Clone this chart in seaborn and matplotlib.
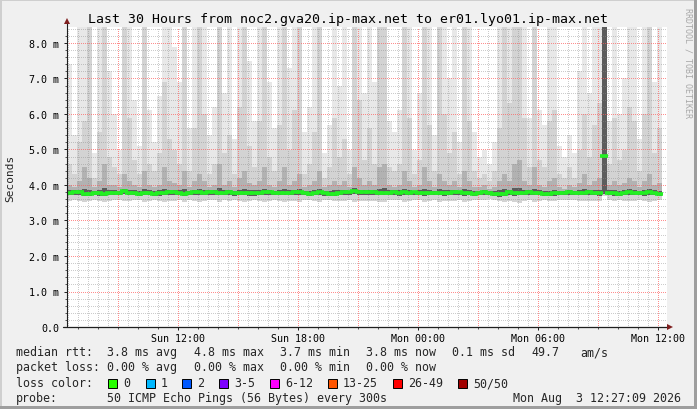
import numpy as np
import pandas as pd
import seaborn as sns
import matplotlib.pyplot as plt
from matplotlib.patches import Rectangle
from matplotlib.lines import Line2D

W, H = 697, 410

# 15 minute steps, Sun 2026-08-02 06:27 -> Mon 12:12
times = pd.date_range("2026-08-02 06:27", periods=119, freq="15min")
day0 = pd.Timestamp("2026-08-02 00:00")

# median rtt per step (ms)
median = [
    3.78, 3.79, 3.80, 3.76, 3.75, 3.78, 3.77, 3.76, 3.78, 3.78,
    3.78, 3.84, 3.78, 3.78, 3.76, 3.78, 3.78, 3.75, 3.77, 3.78,
    3.80, 3.79, 3.78, 3.74, 3.78, 3.79, 3.80, 3.78, 3.79, 3.80,
    3.78, 3.78, 3.79, 3.77, 3.78, 3.78, 3.77, 3.77, 3.78, 3.79,
    3.81, 3.78, 3.78, 3.78, 3.78, 3.80, 3.80, 3.78, 3.76, 3.78,
    3.79, 3.77, 3.75, 3.75, 3.78, 3.79, 3.79, 3.83, 3.79, 3.79,
    3.79, 3.80, 3.78, 3.78, 3.78, 3.80, 3.77, 3.79, 3.78, 3.79,
    3.78, 3.77, 3.78, 3.78, 3.78, 3.77, 3.78, 3.80, 3.79, 3.77,
    3.78, 3.76, 3.78, 3.79, 3.78, 3.76, 3.74, 3.75, 3.79, 3.77,
    3.78, 3.78, 3.79, 3.78, 3.78, 3.76, 3.75, 3.77, 3.78, 3.78,
    3.80, 3.78, 3.78, 3.78, 3.79, 3.78, 3.77, 4.82, 3.78, 3.77,
    3.76, 3.78, 3.81, 3.78, 3.78, 3.77, 3.80, 3.78, 3.76,
]

# smoke: highest ping per step
smoke_max = [
    7.4, 5.4, 8.6, 8.6, 8.6, 4.9, 8.6, 8.6, 7.2, 6.0,
    5.0, 8.6, 8.6, 6.4, 5.1, 8.6, 6.1, 5.2, 6.5, 8.6,
    8.6, 7.9, 6.9, 8.6, 5.6, 8.6, 8.6, 8.6, 5.4, 6.2,
    8.6, 6.6, 8.6, 5.3, 8.6, 8.6, 7.5, 5.8, 8.6, 8.6,
    6.9, 5.6, 8.6, 8.6, 7.3, 8.6, 8.6, 5.5, 6.2, 8.6,
    8.6, 4.9, 5.7, 8.6, 6.8, 8.6, 5.0, 8.6, 8.6, 6.6,
    8.6, 6.9, 8.6, 8.6, 5.8, 5.5, 6.1, 8.6, 8.6, 5.0,
    6.6, 8.6, 8.6, 5.4, 8.6, 8.6, 7.0, 8.6, 5.2, 8.6,
    8.6, 5.5, 4.8, 5.0, 4.6, 5.2, 8.6, 8.6, 8.6, 8.6,
    8.6, 8.6, 5.9, 8.6, 6.1, 5.7, 8.6, 8.6, 5.1, 4.8,
    5.4, 4.9, 7.2, 8.6, 6.6, 8.6, 8.6, 8.6, 5.8, 8.6,
    6.0, 7.0, 8.6, 8.6, 5.3, 8.6, 8.6, 6.9, 8.6,
]

# smoke: upper 10 %
smoke_p90 = [
    4.6, 4.3, 5.2, 5.8, 8.6, 4.2, 5.5, 8.6, 4.8, 4.5,
    4.3, 8.6, 5.9, 4.7, 4.3, 8.6, 4.6, 4.4, 4.9, 6.9,
    5.3, 5.0, 4.6, 8.6, 4.4, 5.6, 8.6, 6.0, 4.3, 4.6,
    8.6, 4.9, 5.4, 4.3, 6.2, 8.6, 5.1, 4.5, 5.8, 8.6,
    4.8, 4.4, 5.7, 8.6, 5.0, 6.1, 8.6, 4.3, 4.6, 5.5,
    8.6, 4.2, 4.5, 5.9, 4.8, 5.3, 4.3, 8.6, 6.4, 4.7,
    5.6, 4.6, 8.6, 8.6, 4.5, 4.4, 4.6, 8.6, 5.9, 4.3,
    4.7, 8.6, 5.7, 4.4, 8.6, 6.0, 4.9, 5.5, 4.3, 8.6,
    5.8, 4.4, 4.2, 4.3, 4.1, 4.4, 5.6, 8.6, 6.3, 8.6,
    8.6, 5.9, 4.5, 8.6, 4.7, 4.5, 5.8, 6.1, 4.3, 4.2,
    4.5, 4.2, 5.0, 6.0, 4.8, 5.7, 6.3, 8.6, 4.6, 5.9,
    4.7, 5.0, 6.2, 5.8, 4.4, 6.0, 8.6, 4.9, 5.6,
]

# smoke: upper quartile
smoke_p75 = [
    4.00, 3.95, 4.10, 4.50, 4.20, 3.95, 4.10, 4.60, 4.00, 4.00,
    3.95, 4.30, 4.10, 4.00, 3.95, 4.40, 4.00, 3.95, 4.00, 4.50,
    4.10, 4.05, 4.00, 4.40, 3.95, 4.10, 4.30, 4.10, 3.95, 4.00,
    4.60, 4.00, 4.10, 3.95, 4.20, 4.40, 4.05, 4.00, 4.10, 4.50,
    4.00, 3.95, 4.10, 4.50, 4.00, 4.10, 4.30, 3.95, 4.00, 4.10,
    4.40, 3.95, 4.00, 4.10, 4.00, 4.10, 3.95, 4.50, 4.20, 4.00,
    4.10, 4.00, 4.50, 4.60, 4.00, 3.95, 4.00, 4.40, 4.10, 3.95,
    4.00, 4.50, 4.10, 3.95, 4.30, 4.10, 4.00, 4.10, 3.95, 4.40,
    4.10, 3.95, 3.95, 4.00, 3.90, 3.95, 4.10, 4.30, 4.10, 4.60,
    4.70, 4.10, 4.00, 4.50, 4.00, 3.95, 4.10, 4.20, 3.95, 3.90,
    4.00, 3.95, 4.05, 4.30, 4.00, 4.10, 4.20, 8.60, 4.00, 4.10,
    4.00, 4.05, 4.20, 4.10, 3.95, 4.10, 4.30, 4.00, 4.05,
]

# smoke: dark core top
smoke_p60 = [
    3.86, 3.85, 3.87, 3.90, 3.87, 3.84, 3.86, 3.91, 3.85, 3.85,
    3.84, 3.90, 3.86, 3.85, 3.84, 3.89, 3.85, 3.83, 3.85, 3.90,
    3.87, 3.86, 3.85, 3.88, 3.84, 3.87, 3.89, 3.86, 3.85, 3.86,
    3.91, 3.85, 3.87, 3.84, 3.87, 3.89, 3.85, 3.85, 3.86, 3.90,
    3.87, 3.84, 3.86, 3.90, 3.85, 3.87, 3.89, 3.84, 3.84, 3.86,
    3.89, 3.84, 3.83, 3.86, 3.85, 3.87, 3.84, 3.92, 3.87, 3.85,
    3.87, 3.86, 3.90, 3.91, 3.85, 3.85, 3.85, 3.89, 3.86, 3.84,
    3.85, 3.90, 3.86, 3.84, 3.88, 3.86, 3.85, 3.87, 3.84, 3.89,
    3.86, 3.83, 3.84, 3.85, 3.82, 3.83, 3.85, 3.89, 3.86, 3.91,
    3.92, 3.86, 3.85, 3.90, 3.85, 3.83, 3.84, 3.87, 3.84, 3.83,
    3.86, 3.84, 3.85, 3.88, 3.85, 3.86, 3.87, 8.60, 3.85, 3.85,
    3.84, 3.85, 3.88, 3.86, 3.84, 3.86, 3.89, 3.85, 3.84,
]

# smoke: lower quartile and lowest ping
smoke_p25 = [
    3.71, 3.72, 3.72, 3.69, 3.69, 3.71, 3.70, 3.69, 3.71, 3.71,
    3.71, 3.74, 3.71, 3.71, 3.69, 3.71, 3.71, 3.68, 3.70, 3.71,
    3.72, 3.72, 3.71, 3.68, 3.71, 3.72, 3.72, 3.71, 3.72, 3.72,
    3.71, 3.71, 3.72, 3.70, 3.71, 3.71, 3.70, 3.70, 3.71, 3.72,
    3.73, 3.71, 3.71, 3.71, 3.71, 3.72, 3.72, 3.71, 3.69, 3.71,
    3.72, 3.70, 3.68, 3.68, 3.71, 3.72, 3.72, 3.74, 3.72, 3.72,
    3.72, 3.72, 3.71, 3.71, 3.71, 3.72, 3.70, 3.72, 3.71, 3.72,
    3.71, 3.70, 3.71, 3.71, 3.71, 3.70, 3.71, 3.72, 3.72, 3.70,
    3.71, 3.69, 3.71, 3.72, 3.71, 3.69, 3.67, 3.68, 3.72, 3.70,
    3.71, 3.71, 3.72, 3.71, 3.71, 3.69, 3.68, 3.70, 3.71, 3.71,
    3.72, 3.71, 3.71, 3.71, 3.72, 3.71, 3.70, 3.75, 3.71, 3.70,
    3.69, 3.71, 3.73, 3.71, 3.71, 3.70, 3.72, 3.71, 3.69,
]
smoke_min = [
    3.56, 3.58, 3.55, 3.52, 3.54, 3.57, 3.55, 3.53, 3.56, 3.57,
    3.58, 3.55, 3.54, 3.57, 3.58, 3.53, 3.56, 3.57, 3.56, 3.52,
    3.55, 3.56, 3.57, 3.52, 3.58, 3.55, 3.53, 3.55, 3.58, 3.57,
    3.52, 3.57, 3.55, 3.58, 3.54, 3.53, 3.56, 3.57, 3.55, 3.52,
    3.56, 3.58, 3.55, 3.52, 3.56, 3.54, 3.53, 3.58, 3.57, 3.55,
    3.52, 3.58, 3.57, 3.55, 3.56, 3.55, 3.58, 3.51, 3.54, 3.56,
    3.55, 3.56, 3.52, 3.51, 3.57, 3.58, 3.57, 3.53, 3.55, 3.58,
    3.57, 3.52, 3.55, 3.58, 3.53, 3.55, 3.56, 3.55, 3.58, 3.52,
    3.55, 3.58, 3.59, 3.58, 3.60, 3.59, 3.56, 3.52, 3.55, 3.51,
    3.50, 3.55, 3.57, 3.52, 3.56, 3.58, 3.56, 3.54, 3.58, 3.59,
    3.57, 3.59, 3.56, 3.54, 3.56, 3.55, 3.54, 3.70, 3.57, 3.55,
    3.57, 3.56, 3.54, 3.55, 3.58, 3.55, 3.53, 3.56, 3.57,
]

xtick_hours = [12, 18, 24, 30, 36]
xtick_labels = ["Sun 12:00", "Sun 18:00", "Mon 00:00", "Mon 06:00", "Mon 12:00"]
ytick_vals = [0, 1, 2, 3, 4, 5, 6, 7, 8]
ytick_labels = ["0.0", "1.0 m", "2.0 m", "3.0 m", "4.0 m", "5.0 m", "6.0 m", "7.0 m", "8.0 m"]

title = "Last 30 Hours from noc2.gva20.ip-max.net to er01.lyo01.ip-max.net"
legend_rows = [
    [("median rtt:", 16), ("3.8 ms avg", 107), ("4.8 ms max", 194), ("3.7 ms min", 280),
     ("3.8 ms now", 366), ("0.1 ms sd", 452), ("49.7", 531), ("am/s", 580)],
    [("packet loss:", 16), ("0.00 % avg", 107), ("0.00 % max", 194), ("0.00 % min", 280),
     ("0.00 % now", 366)],
]
loss_labels = ["0", "1", "2", "3-5", "6-12", "13-25", "26-49", "50/50"]
loss_colors = ["#26ff00", "#00b8ff", "#0059ff", "#7e00ff", "#ff00ff", "#ff5500", "#ff0000", "#a10000"]
loss_box_x = [108, 146, 182, 219, 270, 328, 393, 458]
probe_text = "50 ICMP Echo Pings (56 Bytes) every 300s"
stamp_text = "Mon Aug  3 12:27:09 2026"

# ---------------------------------------------------------------------------
hours = ((times - day0) / pd.Timedelta(hours=1)).to_numpy()
step = 0.25
df = pd.DataFrame({
    "hour": hours, "median": median, "max": smoke_max, "p90": smoke_p90,
    "p75": smoke_p75, "p60": smoke_p60, "p25": smoke_p25, "min": smoke_min,
})
df["mid"] = df["hour"] + step / 2

sns.set_theme(style="white")
plt.rcParams["font.family"] = ["DejaVu Sans Mono"]
plt.rcParams["lines.scale_dashes"] = False

fig = plt.figure(figsize=(W / 100, H / 100), dpi=100, facecolor="#f0f0f0")


def fx(px):
    return px / W


def fy(py):
    return 1 - py / H


ax = fig.add_axes([fx(67), fy(328), 600 / W, 300 / H], facecolor="white")
x0, x1 = 6.45, 36.45
ax.set_xlim(x0, x1)
ax.set_ylim(0, 300 / 35.5)

# smoke layers, lightest first
layers = [("min", "max", "#e8e8e8"), ("min", "p90", "#d3d3d3"),
          ("p25", "p75", "#b2b2b2"), ("p25", "p60", "#5c5c5c")]
for z, (lo, hi, col) in enumerate(layers):
    ax.bar(df["hour"], df[hi] - df[lo], bottom=df[lo], width=step, align="edge",
           color=col, linewidth=0, antialiased=False, zorder=1 + z)

# grid (dotted, half transparent, drawn over the smoke)
dots = (0, (0.72, 1.44))
for m in range(int(x0 * 2) + 1, int(x1 * 2) + 1):
    h = m / 2
    major = (h % 3 == 0)
    ax.axvline(h, color="#ff5f5f" if major else "#8f8f8f", alpha=0.7 if major else 0.45,
               lw=0.72, ls=dots, antialiased=False, zorder=6)
for k in range(1, 43):
    v = k * 0.2
    major = (k % 5 == 0)
    ax.axhline(v, color="#ff5f5f" if major else "#8f8f8f", alpha=0.7 if major else 0.45,
               lw=0.72, ls=dots, antialiased=False, zorder=6)

# median: one short green dash per step
sns.scatterplot(data=df, x="mid", y="median", marker="_", s=26, linewidth=2.6,
                color="#22f022", edgecolor="#22f022", legend=False, ax=ax, zorder=8)
ax.set_xlabel("")
ax.set_ylabel("")

for s in ax.spines.values():
    s.set_visible(False)

ax.set_xticks(xtick_hours)
ax.set_xticklabels(xtick_labels)
ax.set_xticks(np.arange(7, 37, 1.0), minor=True)
ax.set_yticks(ytick_vals)
ax.set_yticklabels(ytick_labels)
ax.tick_params(axis="both", which="major", direction="out", length=2.5, width=0.7,
               color="#1f1f1f", labelsize=7.2, labelcolor="black")
ax.tick_params(axis="y", which="major", pad=3.3)
ax.tick_params(axis="x", which="major", pad=1.8)
ax.tick_params(axis="both", which="minor", length=1.4, width=0.7, color="#555555")
ax.set_yticks(np.arange(0.2, 8.4, 0.2), minor=True)
ax.tick_params(axis="both", which="both", bottom=True, left=True)

# axis lines with arrows
arrow_col = "#7f1f1f"
fig.add_artist(Line2D([fx(67), fx(67)], [fy(328), fy(23)], color="#1f1f1f", lw=0.8))
fig.add_artist(Line2D([fx(63), fx(668)], [fy(328), fy(328)], color="#1f1f1f", lw=0.9))
fig.add_artist(Line2D([fx(67)], [fy(22)], marker="^", color=arrow_col, ms=4.2, mew=0))
fig.add_artist(Line2D([fx(670)], [fy(328)], marker=">", color=arrow_col, ms=4.2, mew=0))

# texts
fig.text(fx(348), fy(19), title, ha="center", va="center", fontsize=9.5, color="black")
fig.text(fx(10), fy(178), "Seconds", rotation=90, ha="center", va="center", fontsize=8.0)
fig.text(fx(688), fy(8), "RRDTOOL / TOBI OETIKER", rotation=270, ha="center", va="top",
         fontsize=6.0, color="#a8a8a8")

row_y = [353, 368, 384, 399]
for row, py in zip(legend_rows, row_y[:2]):
    for txt, px in row:
        fig.text(fx(px), fy(py), txt, ha="left", va="center", fontsize=8.4)

fig.text(fx(16), fy(row_y[2]), "loss color:", ha="left", va="center", fontsize=8.4)
for lab, colr, bx in zip(loss_labels, loss_colors, loss_box_x):
    fig.add_artist(Rectangle((fx(bx), fy(row_y[2] + 4.5)), 9 / W, 9 / H,
                             facecolor=colr, edgecolor="black", lw=0.7))
    fig.text(fx(bx + 15), fy(row_y[2]), lab, ha="left", va="center", fontsize=8.4)

fig.text(fx(16), fy(row_y[3]), "probe:", ha="left", va="center", fontsize=8.4)
fig.text(fx(107), fy(row_y[3]), probe_text, ha="left", va="center", fontsize=8.4)
fig.text(fx(681), fy(row_y[3]), stamp_text, ha="right", va="center", fontsize=8.4)

# frame
fig.add_artist(Rectangle((0, fy(2)), 1, 2 / H, color="#cfcfcf", lw=0))
fig.add_artist(Rectangle((0, 0), 2 / W, 1, color="#cfcfcf", lw=0))
fig.add_artist(Rectangle((fx(694), 0), 3 / W, 1, color="#9e9e9e", lw=0))
fig.add_artist(Rectangle((0, 0), 1, 3 / H, color="#9e9e9e", lw=0))

fig.savefig("out.png", dpi=100, facecolor=fig.get_facecolor())
